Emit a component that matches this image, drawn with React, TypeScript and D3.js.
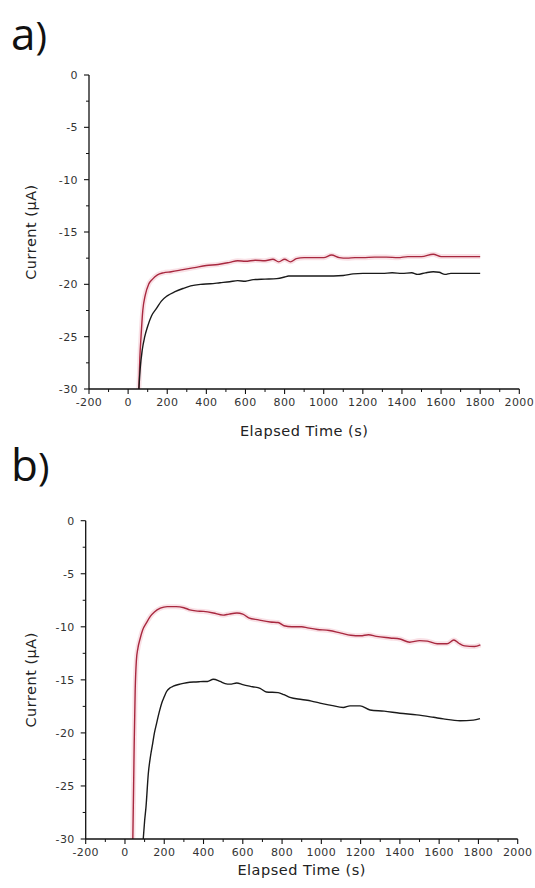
import React from "react";
import * as d3 from "d3";

// ---------- data ----------
const xTicks = [-200, 0, 200, 400, 600, 800, 1000, 1200, 1400, 1600, 1800, 2000];
const yTicks = [0, -5, -10, -15, -20, -25, -30];

// Panel a
const aRedT = [55, 60, 66, 75, 88, 105, 125, 150, 180, 220, 280, 340, 400, 460, 520, 560, 600, 650, 700, 740, 770, 800, 830, 860, 900, 960, 1000, 1040, 1080, 1120, 1160, 1200, 1260, 1320, 1380, 1430, 1500, 1560, 1600, 1650, 1700, 1800];
const aRedV = [-30, -27, -25, -22.5, -21, -20, -19.5, -19.1, -18.9, -18.8, -18.6, -18.4, -18.2, -18.1, -17.9, -17.75, -17.8, -17.7, -17.75, -17.6, -17.85, -17.6, -17.85, -17.55, -17.45, -17.45, -17.45, -17.2, -17.45, -17.5, -17.45, -17.45, -17.4, -17.4, -17.45, -17.35, -17.35, -17.12, -17.35, -17.35, -17.35, -17.35];
const aBlkT = [55, 62, 72, 85, 100, 120, 145, 170, 200, 240, 280, 320, 370, 420, 470, 520, 560, 600, 640, 700, 760, 800, 820, 900, 1000, 1100, 1150, 1200, 1300, 1350, 1400, 1450, 1480, 1520, 1560, 1590, 1620, 1650, 1700, 1800];
const aBlkV = [-30, -28, -26.3, -25, -24, -23, -22.3, -21.6, -21.1, -20.7, -20.4, -20.15, -20.0, -19.95, -19.85, -19.75, -19.65, -19.7, -19.55, -19.5, -19.45, -19.3, -19.2, -19.2, -19.2, -19.15, -19.0, -18.95, -18.95, -18.9, -18.95, -18.9, -19.05, -18.9, -18.8, -18.85, -19.05, -18.95, -18.95, -18.95];

// Panel b
const bRedT = [40, 44, 47, 52, 58, 66, 76, 90, 110, 130, 150, 180, 215, 260, 300, 330, 360, 400, 450, 500, 530, 570, 600, 630, 680, 740, 780, 810, 850, 900, 930, 980, 1040, 1100, 1150, 1200, 1240, 1280, 1350, 1400, 1450, 1500, 1540, 1590, 1640, 1675, 1700, 1730, 1780, 1810];
const bRedV = [-30, -25, -21, -16, -13.2, -12, -11.2, -10.3, -9.6, -9.0, -8.6, -8.25, -8.1, -8.1, -8.2, -8.4, -8.5, -8.55, -8.7, -8.9, -8.8, -8.7, -8.8, -9.15, -9.35, -9.55, -9.6, -9.9, -10.0, -10.0, -10.1, -10.25, -10.35, -10.6, -10.8, -10.85, -10.75, -10.9, -11.05, -11.15, -11.45, -11.3, -11.35, -11.6, -11.6, -11.25, -11.55, -11.8, -11.85, -11.7];
const bBlkT = [93, 100, 107, 119, 130, 141, 150, 161, 175, 187, 200, 212, 230, 246, 280, 314, 350, 382, 420, 450, 484, 510, 535, 569, 600, 650, 688, 720, 780, 810, 840, 900, 950, 993, 1050, 1112, 1146, 1197, 1248, 1320, 1400, 1486, 1571, 1622, 1706, 1774, 1808];
const bBlkV = [-30, -28.3, -27, -23.8, -22.2, -21, -20, -19.1, -18, -17.2, -16.6, -16.1, -15.75, -15.6, -15.4, -15.27, -15.2, -15.17, -15.15, -14.95, -15.15, -15.35, -15.4, -15.3, -15.45, -15.65, -15.8, -16.15, -16.2, -16.4, -16.65, -16.85, -17.0, -17.2, -17.4, -17.6, -17.45, -17.45, -17.84, -17.95, -18.15, -18.3, -18.53, -18.68, -18.85, -18.8, -18.66];

const xLabel = "Elapsed Time (s)";
const yLabel = "Current (µA)";

const RED = "#a8283f";
const BLACK = "#1a1a1a";

type Series = { t: number[]; v: number[]; color: string; halo?: boolean };

function zip(t: number[], v: number[]) {
  return t.map((x, i) => [x, v[i]] as [number, number]);
}

function Panel(props: {
  id: string;
  letter: string;
  letterY: number;
  x0: number; x1: number; y0: number; y1: number;
  titleY: number;
  series: Series[];
}) {
  const { id, letter, letterY, x0, x1, y0, y1, titleY, series } = props;
  const x = d3.scaleLinear().domain([-200, 2000]).range([x0, x1]);
  const y = d3.scaleLinear().domain([-30, 0]).range([y1, y0]);
  const line = d3
    .line<[number, number]>()
    .x((d) => x(d[0]))
    .y((d) => y(d[1]))
    .curve(d3.curveMonotoneX);
  const minorX = d3.range(-100, 2000, 200);
  const minorY = d3.range(-2.5, -30, -5);
  const tickFont = { fontFamily: "DejaVu Sans", fontSize: 11, fill: "#333", letterSpacing: 0.4 };
  const titleFont = { fontFamily: "DejaVu Sans", fontSize: 14.5, fill: "#222", letterSpacing: 0.5 };
  return (
    <g>
      <defs>
        <clipPath id={`clip-${id}`}>
          <rect x={x0} y={y0 - 2} width={x1 - x0} height={y1 - y0 + 2} />
        </clipPath>
      </defs>
      <text x={11} y={letterY} fontFamily="Open Sans" fill="#111">
        <tspan fontSize={44}>{letter}</tspan>
        <tspan fontSize={39}>)</tspan>
      </text>
      <g clipPath={`url(#clip-${id})`}>
        {series.map((s, i) =>
          s.halo ? (
            <path key={`h${i}`} d={line(zip(s.t, s.v)) || ""} fill="none" stroke="#f9e1e6" strokeWidth={5} strokeLinejoin="round" />
          ) : null
        )}
        {series.map((s, i) => (
          <path key={i} d={line(zip(s.t, s.v)) || ""} fill="none" stroke={s.color} strokeWidth={1.4} strokeLinejoin="round" />
        ))}
      </g>
      {/* axes */}
      <line x1={x0} x2={x0} y1={y0} y2={y1} stroke="#111" strokeWidth={1.3} />
      <line x1={x0} x2={x1} y1={y1} y2={y1} stroke="#111" strokeWidth={1.3} />
      {yTicks.map((v) => (
        <g key={`yt${v}`}>
          <line x1={x0 - 5} x2={x0} y1={y(v)} y2={y(v)} stroke="#111" strokeWidth={1.1} />
          <text x={x0 - 11} y={y(v)} dy="0.35em" textAnchor="end" {...tickFont}>{v}</text>
        </g>
      ))}
      {minorY.map((v) => (
        <line key={`ym${v}`} x1={x0 - 3} x2={x0} y1={y(v)} y2={y(v)} stroke="#111" strokeWidth={1} />
      ))}
      {xTicks.map((t) => (
        <g key={`xt${t}`}>
          <line x1={x(t)} x2={x(t)} y1={y1} y2={y1 + 5} stroke="#111" strokeWidth={1.1} />
          <text x={x(t)} y={y1 + 17} textAnchor="middle" {...tickFont}>{t}</text>
        </g>
      ))}
      {minorX.map((t) => (
        <line key={`xm${t}`} x1={x(t)} x2={x(t)} y1={y1} y2={y1 + 3} stroke="#111" strokeWidth={1} />
      ))}
      <text x={(x0 + x1) / 2} y={titleY} textAnchor="middle" {...titleFont}>{xLabel}</text>
      <text
        transform={`translate(${31},${(y0 + y1) / 2}) rotate(-90)`}
        textAnchor="middle"
        dy="0.35em"
        {...titleFont}
      >
        {yLabel}
      </text>
    </g>
  );
}

export default function App() {
  return (
    <svg width={535} height={888} style={{ position: "absolute", left: 0, top: 0, background: "#fff" }}>
      <rect width={535} height={888} fill="#fff" />
      <Panel
        id="a"
        letter="a"
        letterY={50}
        x0={89}
        x1={519.3}
        y0={75}
        y1={389}
        titleY={436}
        series={[
          { t: aRedT, v: aRedV, color: RED, halo: true },
          { t: aBlkT, v: aBlkV, color: BLACK },
        ]}
      />
      <Panel
        id="b"
        letter="b"
        letterY={481}
        x0={85.7}
        x1={517.7}
        y0={520.7}
        y1={839}
        titleY={875}
        series={[
          { t: bRedT, v: bRedV, color: RED, halo: true },
          { t: bBlkT, v: bBlkV, color: BLACK },
        ]}
      />
    </svg>
  );
}
